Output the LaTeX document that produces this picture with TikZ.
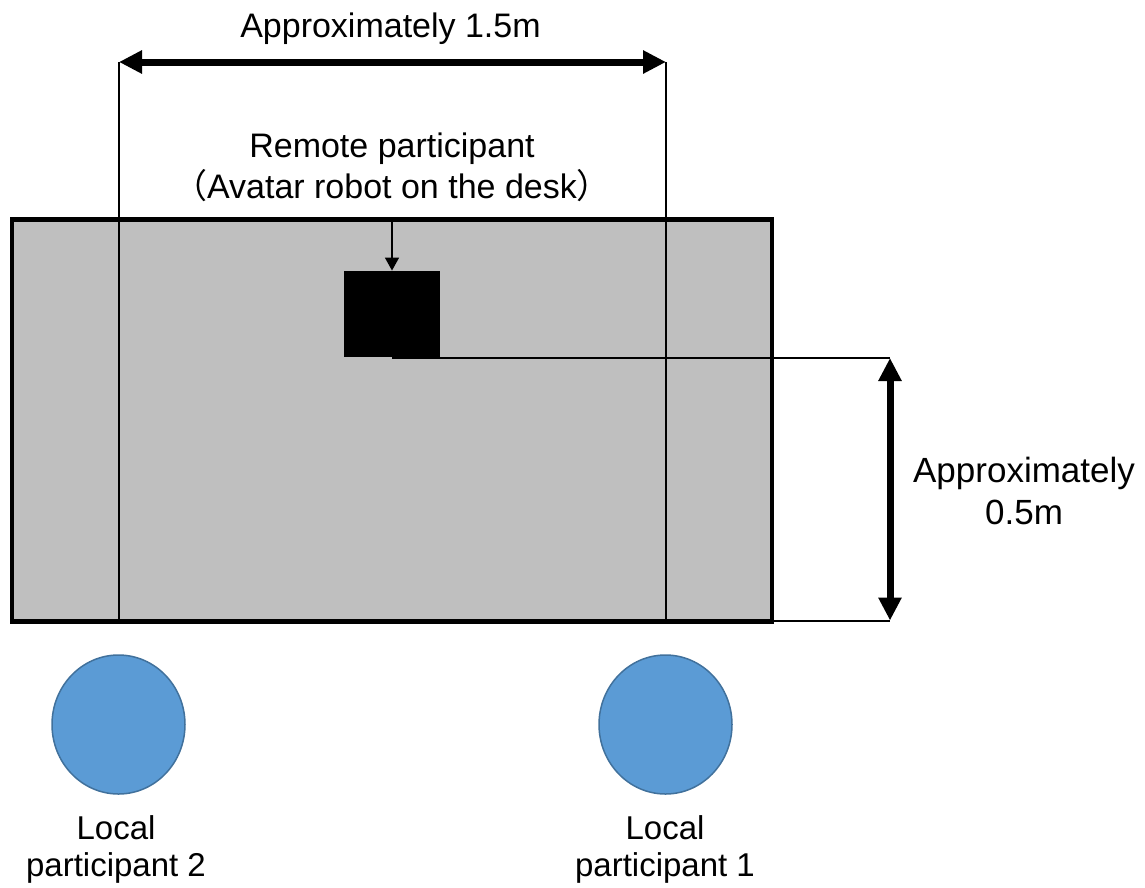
\documentclass[tikz,border=0pt]{standalone}
\usepackage{fontspec}
\setmainfont{Liberation Sans}
\newfontfamily\cjk{Noto Sans CJK JP}
\usetikzlibrary{arrows.meta,shapes.geometric}
\definecolor{deskgray}{HTML}{BFBFBF}
\definecolor{pfill}{HTML}{5B9BD5}
\definecolor{pdraw}{HTML}{41719C}
\begin{document}
\begin{tikzpicture}[x=1pt,y=-1pt,
  desk/.style={draw=black,line width=4.5pt,fill=deskgray,rectangle,inner sep=0pt,
    minimum width=760pt,minimum height=402pt},
  robot/.style={fill=black,rectangle,inner sep=0pt,minimum width=96pt,minimum height=86.5pt},
  person/.style={ellipse,draw=pdraw,line width=1.5pt,fill=pfill,inner sep=0pt,
    minimum width=133pt,minimum height=139pt},
  dimline/.style={line width=2pt,black},
  bigarrow/.style={line width=7pt,black,
    {Triangle[length=23pt,width=22pt]}-{Triangle[length=23pt,width=22pt]}},
  smallarrow/.style={line width=1.5pt,black,-{Triangle[length=13pt,width=14pt]}},
  lbl/.style={inner sep=0pt,align=center},
  big/.style={font=\fontsize{34}{41}\selectfont},
  bigb/.style={font=\fontsize{35}{41.5}\selectfont},
  small/.style={font=\fontsize{33}{37}\selectfont}
]
\useasboundingbox (0,0) rectangle (1145,887);
% desk
\node[desk] (desk) at (392,420.5) {};
% coordinates for dimension lines
\coordinate (lt) at (119,62);
\coordinate (lb) at (119,621.5);
\coordinate (rt) at (666,62);
\coordinate (rb) at (666,621.5);
\draw[dimline] (lt) -- (lb);
\draw[dimline] (rt) -- (rb);
\draw[bigarrow] (lt) -- (rt);
% robot
\node[robot] (robot) at (392,314) {};
\coordinate (deskTop) at (392,221);
\draw[smallarrow] (deskTop) -- (robot.north);
% depth dimension
\coordinate (dt) at (890,358);
\coordinate (db) at (890,620.5);
\coordinate (rbot) at (392,358);
\coordinate (dse) at (772,620.5);
\draw[dimline] (rbot) -- (dt);
\draw[dimline] (dse) -- (db);
\draw[bigarrow] (dt) -- (db);
% participants
\node[person] (p2) at (118.5,724.5) {};
\node[person] (p1) at (665.5,724.5) {};
% labels
\node[lbl,big,anchor=base] (wlabel) at (390.5,37) {Approximately 1.5m};
\node[lbl,big,anchor=north] (remote) at (392,133) {Remote participant\\{\cjk （}Avatar robot on the desk{\cjk ）}};
\node[lbl,bigb,anchor=north] (dlabel) at (1024,457) {Approximately\\0.5m};
\node[lbl,small,anchor=north] (l2) at (116,815) {Local\\participant 2};
\node[lbl,small,anchor=north] (l1) at (665,815) {Local\\participant 1};
\end{tikzpicture}
\end{document}
